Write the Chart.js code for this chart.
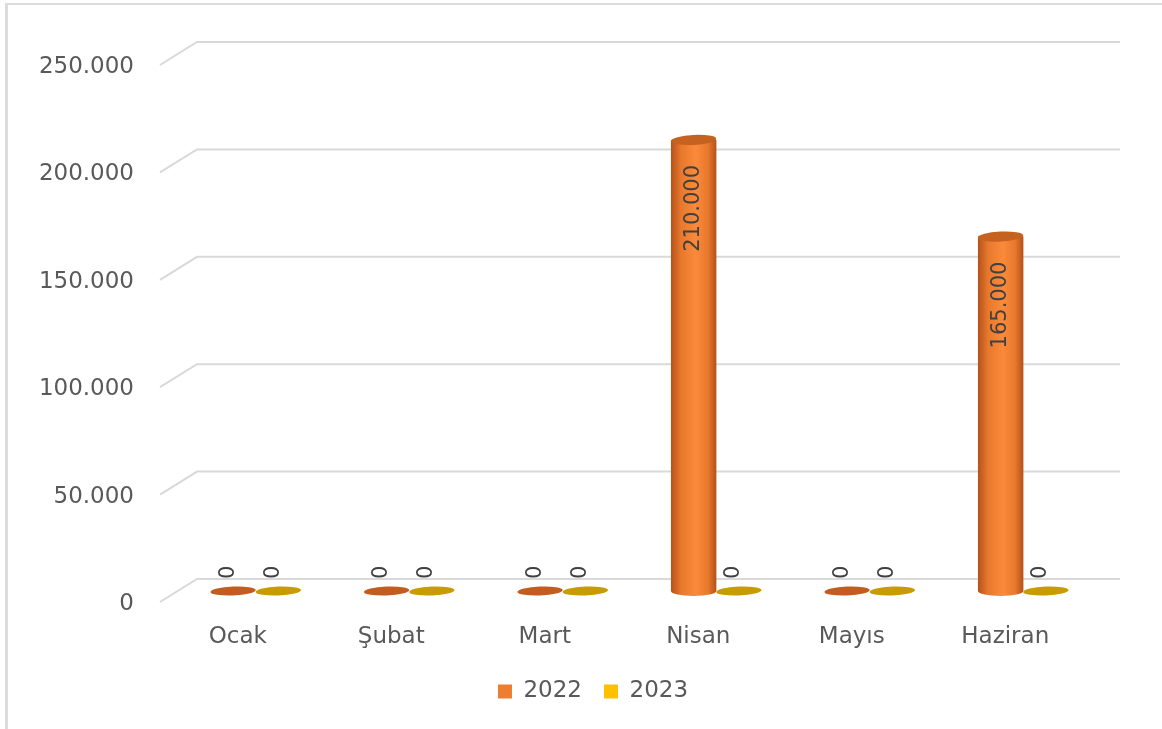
<!DOCTYPE html>
<html>
<head>
<meta charset="utf-8">
<script src="https://cdn.jsdelivr.net/npm/chart.js@4.4.1/dist/chart.umd.min.js"></script>
<style>
  html, body { margin: 0; padding: 0; background: #fff; }
  #wrap { position: relative; width: 1162px; height: 729px; }
</style>
</head>
<body>
<div id="wrap"><canvas id="chart"></canvas></div>
<script>
const months = ['Ocak', 'Şubat', 'Mart', 'Nisan', 'Mayıs', 'Haziran'];
const values2022 = [0, 0, 0, 210000, 0, 165000];
const values2023 = [0, 0, 0, 0, 0, 0];
const yTicks = [0, 50000, 100000, 150000, 200000, 250000];

const FONT = '"DejaVu Sans", sans-serif';
const TEXT = '#595959';

// cylinder shades per series: edge, light, cap, flat (zero) disc
const shades = [
  { edge: '#b4521b', mid: '#e8782c', light: '#fb8a3a', cap: '#c5621f', flat: '#c35c1f' },
  { edge: '#b38a00', mid: '#d9a800', light: '#f2c000', cap: '#c69a00', flat: '#c89c00' }
];

const fmt = v => String(v).replace(/\B(?=(\d{3})+(?!\d))/g, '.');

// frame lines (top and left only, like the source)
const frame = {
  id: 'frame',
  beforeDraw(chart) {
    const ctx = chart.ctx;
    ctx.save();
    ctx.fillStyle = '#dcdcdc';
    ctx.fillRect(5, 3, chart.width - 5, 2);
    ctx.fillRect(5, 3, 3, chart.height - 3);
    ctx.restore();
  }
};

// 3d-looking gridlines: short slanted lead-in, then the back wall line
const wallGrid = {
  id: 'wallGrid',
  beforeDatasetsDraw(chart) {
    const { ctx, chartArea, scales } = chart;
    ctx.save();
    ctx.strokeStyle = '#d9d9d9';
    ctx.lineWidth = 2;
    yTicks.forEach(v => {
      const py = scales.y.getPixelForValue(v);
      ctx.beginPath();
      ctx.moveTo(chartArea.left - 19, py + 11);
      ctx.lineTo(chartArea.left + 18, py - 12);
      ctx.lineTo(chartArea.right + 20, py - 12);
      ctx.stroke();
    });
    ctx.restore();
  }
};

const cylinders = {
  id: 'cylinders',
  afterDatasetsDraw(chart) {
    const ctx = chart.ctx;
    chart.data.datasets.forEach((ds, di) => {
      const meta = chart.getDatasetMeta(di);
      const s = shades[di];
      meta.data.forEach((bar, i) => {
        const { x, y, base, width } = bar.getProps(['x', 'y', 'base', 'width'], true);
        const rx = width / 2, ry = 5;
        ctx.save();
        if (ds.data[i] === 0) {
          ctx.fillStyle = s.flat;
          ctx.beginPath();
          ctx.ellipse(x, base, rx, ry - 0.5, -0.04, 0, Math.PI * 2);
          ctx.fill();
        } else {
          const g = ctx.createLinearGradient(x - rx, 0, x + rx, 0);
          g.addColorStop(0, s.edge);
          g.addColorStop(0.22, s.mid);
          g.addColorStop(0.55, s.light);
          g.addColorStop(0.82, s.mid);
          g.addColorStop(1, s.edge);
          ctx.fillStyle = g;
          ctx.beginPath();
          ctx.moveTo(x - rx, y);
          ctx.lineTo(x - rx, base);
          ctx.ellipse(x, base, rx, ry, 0, Math.PI, 0, true);
          ctx.lineTo(x + rx, y);
          ctx.closePath();
          ctx.fill();
          ctx.fillStyle = s.cap;
          ctx.beginPath();
          ctx.ellipse(x, y, rx, ry, -0.05, 0, Math.PI * 2);
          ctx.fill();
        }
        ctx.restore();
      });
    });
  }
};

// rotated value labels
const valueLabels = {
  id: 'valueLabels',
  afterDatasetsDraw(chart) {
    const ctx = chart.ctx;
    ctx.save();
    ctx.font = '21px ' + FONT;
    ctx.fillStyle = '#404040';
    ctx.textBaseline = 'middle';
    chart.data.datasets.forEach((ds, di) => {
      chart.getDatasetMeta(di).data.forEach((bar, i) => {
        const { x, y, base } = bar.getProps(['x', 'y', 'base'], true);
        const v = ds.data[i];
        ctx.save();
        if (v === 0) {
          ctx.translate(x - 5, base - 12);
          ctx.rotate(-Math.PI / 2);
          ctx.textAlign = 'left';
        } else {
          ctx.translate(x, y + 25);
          ctx.rotate(-Math.PI / 2);
          ctx.textAlign = 'right';
        }
        ctx.fillText(fmt(v), 0, 0);
        ctx.restore();
      });
    });
    ctx.restore();
  }
};

new Chart(document.getElementById('chart'), {
  type: 'bar',
  data: {
    labels: months,
    datasets: [
      { label: '2022', data: values2022, backgroundColor: '#ED7D31', borderWidth: 0 },
      { label: '2023', data: values2023, backgroundColor: '#FFC000', borderWidth: 0 }
    ]
  },
  options: {
    responsive: true,
    maintainAspectRatio: false,
    animation: false,
    devicePixelRatio: 1,
    categoryPercentage: 0.59,
    barPercentage: 1,
    layout: { padding: { top: 54, left: 24, right: 0, bottom: 16 } },
    scales: {
      x: {
        grid: { display: false, drawTicks: false },
        border: { display: false },
        ticks: { color: TEXT, font: { family: FONT, size: 23 }, padding: 32, labelOffset: -18, maxRotation: 0 },
        afterFit: s => { s.height = 67; }
      },
      y: {
        min: 0,
        max: 250000,
        grid: { display: false, drawTicks: false },
        border: { display: false },
        afterBuildTicks: s => { s.ticks = yTicks.map(v => ({ value: v })); },
        ticks: { color: TEXT, font: { family: FONT, size: 23 }, padding: 45, labelOffset: 13, callback: v => fmt(v) },
        // the wide label padding would otherwise push the plot top down
        afterFit: s => { s.width = 155; s.paddingTop = 0; s.paddingBottom = 0; }
      },
      // empty right-hand spacer so the legend centres like the source
      spacer: {
        type: 'linear',
        position: 'right',
        grid: { display: false, drawTicks: false },
        border: { display: false },
        ticks: { display: false },
        afterFit: s => { s.width = 62; s.paddingTop = 0; s.paddingBottom = 0; }
      }
    },
    plugins: {
      legend: {
        position: 'bottom',
        labels: { color: TEXT, font: { family: FONT, size: 23 }, boxWidth: 14, boxHeight: 14, padding: 22 }
      },
      tooltip: { enabled: false }
    }
  },
  plugins: [frame, wallGrid, cylinders, valueLabels]
});
</script>
</body>
</html>
